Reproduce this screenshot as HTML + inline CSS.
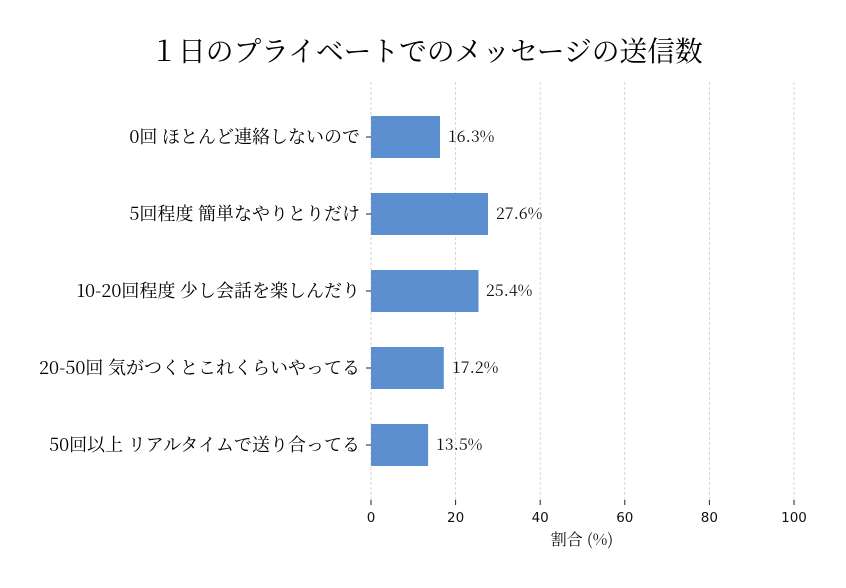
<!DOCTYPE html>
<html><head><meta charset="utf-8"><style>
body{margin:0;background:#fff}
svg{display:block}
.s{font-family:"Noto Serif CJK JP","Liberation Serif",serif}
.t{font-family:"DejaVu Sans","Liberation Sans",sans-serif}
</style></head><body>
<svg width="846" height="588" xmlns="http://www.w3.org/2000/svg">
<text x="426.5" y="61" text-anchor="middle" class="s" font-size="27.75" fill="#000">１日のプライベートでのメッセージの送信数</text>
<g stroke="#ccc" stroke-width="0.8" stroke-dasharray="3,2">
<line x1="371" y1="82" x2="371" y2="500"/>
<line x1="455.6" y1="82" x2="455.6" y2="500"/>
<line x1="540.2" y1="82" x2="540.2" y2="500"/>
<line x1="624.8" y1="82" x2="624.8" y2="500"/>
<line x1="709.4" y1="82" x2="709.4" y2="500"/>
<line x1="794" y1="82" x2="794" y2="500"/>
</g>
<g stroke="#222" stroke-width="1">
<line x1="371" y1="500" x2="371" y2="505"/><line x1="455.6" y1="500" x2="455.6" y2="505"/><line x1="540.2" y1="500" x2="540.2" y2="505"/><line x1="624.8" y1="500" x2="624.8" y2="505"/><line x1="709.4" y1="500" x2="709.4" y2="505"/><line x1="794" y1="500" x2="794" y2="505"/>
<line x1="366" y1="137" x2="371" y2="137"/><line x1="366" y1="214" x2="371" y2="214"/><line x1="366" y1="291" x2="371" y2="291"/><line x1="366" y1="368" x2="371" y2="368"/><line x1="366" y1="445" x2="371" y2="445"/>
</g>
<g fill="#5b8fd0">
<rect x="371" y="116" width="69" height="42"/>
<rect x="371" y="193" width="117" height="42"/>
<rect x="371" y="270" width="107.5" height="42"/>
<rect x="371" y="347" width="72.8" height="42"/>
<rect x="371" y="424" width="57.1" height="42"/>
</g>
<g class="s" font-size="16" fill="#111">
<text x="448" y="142">16.3%</text>
<text x="496" y="219">27.6%</text>
<text x="486" y="296">25.4%</text>
<text x="452" y="373">17.2%</text>
<text x="436" y="450">13.5%</text>
</g>
<g class="s" font-size="18" fill="#000" text-anchor="end">
<text x="360" y="143">0回 ほとんど連絡しないので</text>
<text x="360" y="220">5回程度 簡単なやりとりだけ</text>
<text x="360" y="297">10-20回程度 少し会話を楽しんだり</text>
<text x="360" y="374">20-50回 気がつくとこれくらいやってる</text>
<text x="360" y="451">50回以上 リアルタイムで送り合ってる</text>
</g>
<g class="t" font-size="13.5" fill="#111" text-anchor="middle">
<text x="371" y="522">0</text><text x="455.6" y="522">20</text><text x="540.2" y="522">40</text><text x="624.8" y="522">60</text><text x="709.4" y="522">80</text><text x="794" y="522">100</text>
</g>
<text x="582" y="545" text-anchor="middle" class="s" font-size="16" fill="#111">割合 (%)</text>
</svg>
</body></html>
